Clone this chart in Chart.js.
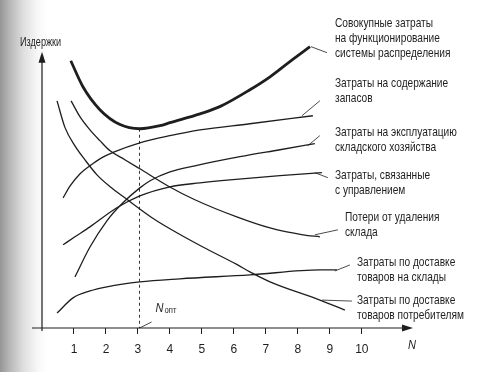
<!DOCTYPE html>
<html>
<head>
<meta charset="utf-8">
<script src="https://cdn.jsdelivr.net/npm/chart.js@4"></script>
<style>
  html, body { margin: 0; padding: 0; }
  body {
    width: 499px; height: 372px; overflow: hidden;
    background: linear-gradient(to right, #969696 0px, #b8b8b8 10px, #e0e0e0 24px, #f8f8f8 38px, #fff 48px);
  }
  canvas { display: block; }
</style>
</head>
<body>
<canvas id="costChart" width="499" height="372"></canvas>
<script>
// [N, cost] pairs (cost in relative units, 0..100 = axis height)
const totalCosts = [[0.9, 96.7], [1.28, 87.3], [1.81, 79.0], [2.44, 73.6], [3.06, 72.1], [3.69, 73.2],
  [4.0, 74.3], [4.94, 77.5], [5.56, 80.1], [6.5, 86.2], [7.13, 90.9], [7.75, 96.4], [8.38, 101.8]];
const inventoryCosts = [[0.66, 47.1], [0.88, 51.4], [1.19, 55.8], [1.5, 58.7], [1.81, 61.2], [2.28, 63.8],
  [3.06, 67.0], [4.0, 69.6], [4.94, 71.7], [6.5, 73.9], [8.47, 76.8]];
const warehouseCosts = [[1.03, 18.5], [1.5, 29.3], [2.03, 38.8], [2.53, 45.3], [3.06, 50.7], [3.38, 53.3],
  [4.0, 56.5], [4.78, 58.7], [6.19, 62.0], [7.44, 64.5], [8.53, 66.7]];
const managementCosts = [[0.66, 30.1], [1.03, 33.0], [1.5, 36.6], [2.34, 43.5], [3.06, 47.8], [4.0, 51.1],
  [4.94, 52.5], [5.88, 53.6], [7.44, 55.1], [8.75, 56.2]];
const distanceLosses = [[0.91, 82.2], [1.19, 76.4], [1.5, 71.7], [1.81, 67.8], [2.13, 64.1], [2.59, 60.9],
  [3.06, 57.6], [3.94, 51.4], [4.78, 46.4], [6.09, 40.2], [7.13, 36.2], [8.16, 33.7], [8.69, 33.0]];
const toWarehouseDelivery = [[0.47, 5.4], [0.97, 10.9], [1.5, 13.4], [2.03, 14.9], [3.06, 16.7], [4.31, 17.8],
  [6.5, 19.2], [8.69, 21.0], [9.22, 21.0]];
const toConsumerDelivery = [[0.47, 82.2], [0.72, 72.5], [1.03, 65.9], [1.34, 60.9], [1.72, 55.4], [2.13, 51.1],
  [2.59, 47.1], [3.44, 39.9], [4.0, 35.9], [5.03, 29.3], [6.09, 23.0], [6.5, 20.3], [7.13, 16.7], [8.69, 10.1], [9.47, 6.5]];

const xTicks = [1, 2, 3, 4, 5, 6, 7, 8, 9, 10];
const nOpt = 3.05;
const optCost = 72.1;

const INK = '#1e1e1e';
const FONT = '"Liberation Sans", Arial, sans-serif';

const pts = arr => arr.map(p => ({ x: p[0], y: p[1] }));
const curve = (data, width) => ({
  data: pts(data), borderColor: INK, borderWidth: width, pointRadius: 0,
  cubicInterpolationMode: 'monotone', fill: false
});

const series = [totalCosts, inventoryCosts, warehouseCosts, managementCosts,
  distanceLosses, toWarehouseDelivery, toConsumerDelivery];

// curve captions on the right, with small leader strokes
const notes = [
  { lines: ['Совокупные затраты', 'на функционирование', 'системы распределения'], x: 335, y: 23, s: 0, i: -1, lead: [1, 0, 17, 6] },
  { lines: ['Затраты на содержание', 'запасов'], x: 335, y: 83, s: 1, i: -1, lead: [-11, 0, 7, -15] },
  { lines: ['Затраты на эксплуатацию', 'складского хозяйства'], x: 335, y: 132, s: 2, i: -1, lead: [-7, 2, 5, -8] },
  { lines: ['Затраты, связанные', 'с управлением'], x: 335, y: 175, s: 3, i: -1, lead: [-7, 0, 6, 5] },
  { lines: ['Потери от удаления', 'склада'], x: 345, y: 217, s: 4, i: -1, lead: [-5, -2, 18, -7] },
  { lines: ['Затраты по доставке', 'товаров на склады'], x: 357, y: 262, s: 5, i: -1, lead: [-2, 1, 13, -5] },
  { lines: ['Затраты по доставке', 'товаров потребителям'], x: 357, y: 300, s: 6, i: 13, lead: [2, 0, 32, 1] }
];

// narrow-looking text: squeeze a regular face horizontally
function narrowText(ctx, s, x, y, sx) {
  ctx.save();
  ctx.translate(x, y);
  ctx.scale(sx, 1);
  ctx.fillText(s, 0, 0);
  ctx.restore();
}

const decor = {
  id: 'decor',
  afterDraw(chart) {
    const { ctx, chartArea: a, scales: { x, y } } = chart;
    const x0 = x.getPixelForValue(0), y0 = y.getPixelForValue(0);
    const yTop = y.getPixelForValue(100);
    ctx.save();
    ctx.strokeStyle = INK;
    ctx.fillStyle = INK;
    ctx.lineWidth = 1.2;

    // axes with arrows
    ctx.beginPath();
    ctx.moveTo(x0 - 10, y0); ctx.lineTo(a.right - 6, y0);
    ctx.moveTo(x0, y0 + 3); ctx.lineTo(x0, yTop + 6);
    ctx.stroke();
    ctx.beginPath();
    ctx.moveTo(a.right, y0); ctx.lineTo(a.right - 11, y0 - 3.5); ctx.lineTo(a.right - 11, y0 + 3.5);
    ctx.closePath(); ctx.fill();
    ctx.beginPath();
    ctx.moveTo(x0, yTop); ctx.lineTo(x0 - 3.5, yTop + 11); ctx.lineTo(x0 + 3.5, yTop + 11);
    ctx.closePath(); ctx.fill();

    ctx.textBaseline = 'middle';
    ctx.textAlign = 'left';
    ctx.font = '12px ' + FONT;
    narrowText(ctx, 'Издержки', 20, 43, 0.76);

    ctx.font = 'italic 13px ' + FONT;
    narrowText(ctx, 'N', 408, 345, 0.85);

    // N opt label
    const xo = x.getPixelForValue(nOpt);
    narrowText(ctx, 'N', xo + 16, 308, 0.85);
    ctx.font = '9px ' + FONT;
    narrowText(ctx, 'опт', xo + 25, 311, 0.85);
    ctx.lineWidth = 0.8;
    ctx.beginPath();
    ctx.moveTo(xo, y0); ctx.lineTo(xo + 12, y0 - 6);
    ctx.stroke();

    // captions + leaders
    ctx.font = '13px ' + FONT;
    notes.forEach(n => {
      const data = series[n.s];
      const p = data[n.i < 0 ? data.length - 1 : n.i];
      const px = x.getPixelForValue(p[0]), py = y.getPixelForValue(p[1]);
      ctx.beginPath();
      ctx.moveTo(px + n.lead[0], py + n.lead[1]);
      ctx.lineTo(px + n.lead[2], py + n.lead[3]);
      ctx.stroke();
      n.lines.forEach((t, k) => narrowText(ctx, t, n.x, n.y + k * 15, 0.78));
    });
    ctx.restore();
  }
};

new Chart(document.getElementById('costChart').getContext('2d'), {
  type: 'line',
  data: {
    datasets: [
      curve(totalCosts, 2.8),
      curve(inventoryCosts, 1.3),
      curve(warehouseCosts, 1.3),
      curve(managementCosts, 1.3),
      curve(distanceLosses, 1.3),
      curve(toWarehouseDelivery, 1.3),
      curve(toConsumerDelivery, 1.3),
      {
        data: [{ x: nOpt, y: optCost }, { x: nOpt, y: 0 }],
        borderColor: INK, borderWidth: 0.9, borderDash: [3, 3], pointRadius: 0, tension: 0
      }
    ]
  },
  options: {
    responsive: false,
    animation: false,
    layout: { padding: { left: 42, right: 86, top: 24, bottom: 0 } },
    plugins: { legend: { display: false }, tooltip: { enabled: false } },
    scales: {
      x: {
        type: 'linear',
        min: 0,
        max: 11.6,
        afterBuildTicks: s => { s.ticks = xTicks.map(v => ({ value: v })); },
        afterFit: s => { s.height = 44; },
        grid: { drawOnChartArea: false, drawTicks: true, tickLength: 6, color: INK, lineWidth: 1 },
        border: { display: false },
        ticks: { color: INK, font: { family: FONT, size: 12 }, padding: 8, maxRotation: 0 }
      },
      y: {
        display: false,
        min: 0,
        max: 110
      }
    }
  },
  plugins: [decor]
});
</script>
</body>
</html>
